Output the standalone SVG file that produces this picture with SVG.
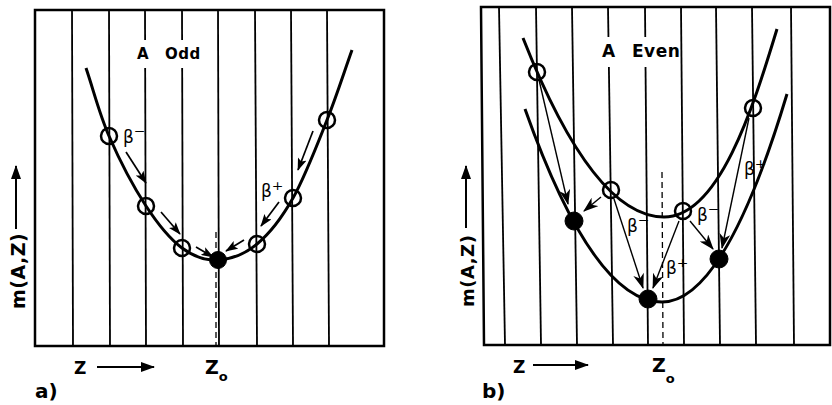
<svg xmlns="http://www.w3.org/2000/svg" width="832" height="405" viewBox="0 0 832 405">
<style>
.frame{fill:none;stroke:#000;stroke-width:2.5}
.grid line{stroke:#000;stroke-width:1.8}
.curve{fill:none;stroke:#000;stroke-width:3}
.dash{stroke:#000;stroke-width:1.3;stroke-dasharray:6 4}
.open{fill:none;stroke:#000;stroke-width:2.5}
.full{fill:#000;stroke:#000;stroke-width:1}
.arr{fill:none;stroke:#000;stroke-width:1.4}
.arrs{fill:none;stroke:#000;stroke-width:1.7}
.axis{fill:none;stroke:#000;stroke-width:2}
.t{font-family:"DejaVu Sans","Liberation Sans",sans-serif;fill:#000;font-weight:bold}
.b{font-family:"DejaVu Sans","Liberation Sans",sans-serif;fill:#000}
.sup{font-size:22px}
</style>
<defs>
<marker id="ah" viewBox="0 0 14 10" refX="13" refY="5" markerWidth="16" markerHeight="11" markerUnits="userSpaceOnUse" orient="auto"><path d="M0,0 L14,5 L0,10 L4,5 Z" fill="#000"/></marker>
<marker id="ahs" viewBox="0 0 14 10" refX="13" refY="5" markerWidth="13" markerHeight="9" markerUnits="userSpaceOnUse" orient="auto"><path d="M0,0 L14,5 L0,10 L3,5 Z" fill="#000"/></marker>
<marker id="aha" viewBox="0 0 14 10" refX="13" refY="5" markerWidth="15" markerHeight="10" markerUnits="userSpaceOnUse" orient="auto"><path d="M0,0 L14,5 L0,10 Z" fill="#000"/></marker>
</defs>
<rect width="832" height="405" fill="#fff"/>

<g id="panel-a">
<rect class="frame" x="35" y="10" width="349" height="336"/>
<g class="grid">
<line x1="72" y1="10" x2="73" y2="346"/>
<line x1="109" y1="10" x2="110" y2="346"/>
<line x1="145" y1="10" x2="146" y2="346"/>
<line x1="182" y1="10" x2="183" y2="346"/>
<line x1="218" y1="10" x2="219" y2="346"/>
<line x1="255" y1="10" x2="257" y2="346"/>
<line x1="291" y1="10" x2="293" y2="346"/>
<line x1="327" y1="10" x2="329" y2="346"/>
</g>
<line class="dash" x1="216" y1="232" x2="216" y2="346"/>
<path class="curve" d="M86,68 C93.7,90.7 99,113 109,136 C119,159 133.8,187.3 146,206 C158.2,224.7 170,239 182,248 C194,257 205.5,260.7 218,260 C230.5,259.3 244.5,254.3 257,244 C269.5,233.7 281.3,218.7 293,198 C304.7,177.3 317.2,144.7 327,120 C336.8,95.3 343.7,73.3 352,50"/>
<rect x="136" y="40" width="64" height="28" fill="#fff"/>
<text class="t" font-size="15" y="59"><tspan x="137">A</tspan><tspan x="165" letter-spacing="0.5">Odd</tspan></text>
</g>

<g id="panel-b">
<path class="frame" d="M481,7 L830,7 L830,345 L484,345 Z"/>
<g class="grid">
<line x1="499" y1="7" x2="505" y2="345"/>
<line x1="536" y1="7" x2="541" y2="345"/>
<line x1="572" y1="7" x2="577" y2="345"/>
<line x1="608" y1="7" x2="613" y2="345"/>
<line x1="645" y1="7" x2="648" y2="345"/>
<line x1="681" y1="7" x2="684" y2="345"/>
<line x1="716" y1="7" x2="720" y2="345"/>
<line x1="752" y1="7" x2="756" y2="345"/>
<line x1="791" y1="7" x2="794" y2="345"/>
</g>
<line class="dash" x1="662" y1="172" x2="663" y2="345"/>
<path class="curve" d="M523,38 Q593.5,217 664,217 C719,217 753,108 777,29"/>
<path class="curve" d="M525,109 Q593.5,302 662,302 Q724.5,302 787,94"/>
<rect x="600" y="37" width="78" height="30" fill="#fff"/>
<text class="t" font-size="17" y="57"><tspan x="602">A</tspan><tspan x="632" letter-spacing="0.5">Even</tspan></text>
</g>

<g id="nodes-a">
<g id="a-n1"><circle class="open" cx="109" cy="136" r="8"/></g>
<g id="a-n2"><circle class="open" cx="146" cy="206" r="8"/></g>
<g id="a-n3"><circle class="open" cx="182" cy="248" r="8"/></g>
<g id="a-n4"><circle class="full" cx="218" cy="260" r="8.5"/></g>
<g id="a-n5"><circle class="open" cx="257" cy="244" r="8"/></g>
<g id="a-n6"><circle class="open" cx="293" cy="198" r="8"/></g>
<g id="a-n7"><circle class="open" cx="327" cy="120" r="8"/></g>
</g>
<g id="nodes-b">
<g id="b-n1"><circle class="open" cx="537" cy="72" r="8"/></g>
<g id="b-n2"><circle class="full" cx="574" cy="221" r="9"/></g>
<g id="b-n3"><circle class="open" cx="611" cy="190" r="8"/></g>
<g id="b-n4"><circle class="full" cx="648" cy="299" r="9"/></g>
<g id="b-n5"><circle class="open" cx="683" cy="211" r="8"/></g>
<g id="b-n6"><circle class="full" cx="719" cy="259" r="9"/></g>
<g id="b-n7"><circle class="open" cx="753" cy="108" r="8"/></g>
</g>

<g id="connectors">
<path class="arrs" marker-end="url(#ahs)" d="M126,152 L146,183"/>
<path class="arrs" marker-end="url(#ahs)" d="M161,212 L180,234"/>
<path class="arrs" marker-end="url(#ahs)" d="M196,247 L213,257"/>
<path class="arrs" marker-end="url(#ahs)" d="M313,131 L298,170"/>
<path class="arrs" marker-end="url(#ahs)" d="M279,202 L261,226"/>
<path class="arrs" marker-end="url(#ahs)" d="M244,240 L226,251"/>
<path class="arr" marker-end="url(#ah)" d="M539,80 L568,204"/>
<path class="arr" marker-end="url(#ah)" d="M601,197 L584,211"/>
<path class="arr" marker-end="url(#ah)" d="M614,199 L643,288"/>
<path class="arr" marker-end="url(#ah)" d="M679,221 L653,288"/>
<path class="arr" marker-end="url(#ah)" d="M690,221 L713,249"/>
<path class="arr" marker-end="url(#ah)" d="M749,118 L722,248"/>
<path class="axis" marker-end="url(#aha)" d="M16,229 L16,166"/>
<path class="axis" marker-end="url(#aha)" d="M466,228 L466,166"/>
<path class="axis" marker-end="url(#aha)" d="M97,367 L154,367"/>
<path class="axis" marker-end="url(#aha)" d="M533,365 L588,365"/>
</g>

<g id="labels">
<text class="b" font-size="17" x="123" y="143">β<tspan class="sup">⁻</tspan></text>
<text class="b" font-size="17" x="261" y="197">β<tspan class="sup">⁺</tspan></text>
<text class="b" font-size="17" x="627" y="232">β<tspan class="sup">⁻</tspan></text>
<text class="b" font-size="17" x="666" y="274">β<tspan class="sup">⁺</tspan></text>
<text class="b" font-size="17" x="697" y="221">β<tspan class="sup">⁻</tspan></text>
<text class="b" font-size="17" x="744" y="175">β<tspan class="sup">⁺</tspan></text>
<text class="t" font-size="19" transform="translate(25,309) rotate(-90)" letter-spacing="0.5">m(A,Z)</text>
<text class="t" font-size="18" transform="translate(474,307) rotate(-90)" letter-spacing="0.5">m(A,Z)</text>
<text class="t" font-size="17" x="74" y="374">Z</text>
<text class="t" font-size="19" x="205" y="374">Z<tspan font-size="13" dy="7">o</tspan></text>
<text class="t" font-size="17" x="513" y="373">Z</text>
<text class="t" font-size="19" x="652" y="372">Z<tspan font-size="13" dy="11">o</tspan></text>
<text class="t" font-size="20" x="35" y="398">a)</text>
<text class="t" font-size="20" x="482" y="398">b)</text>
</g>
</svg>
